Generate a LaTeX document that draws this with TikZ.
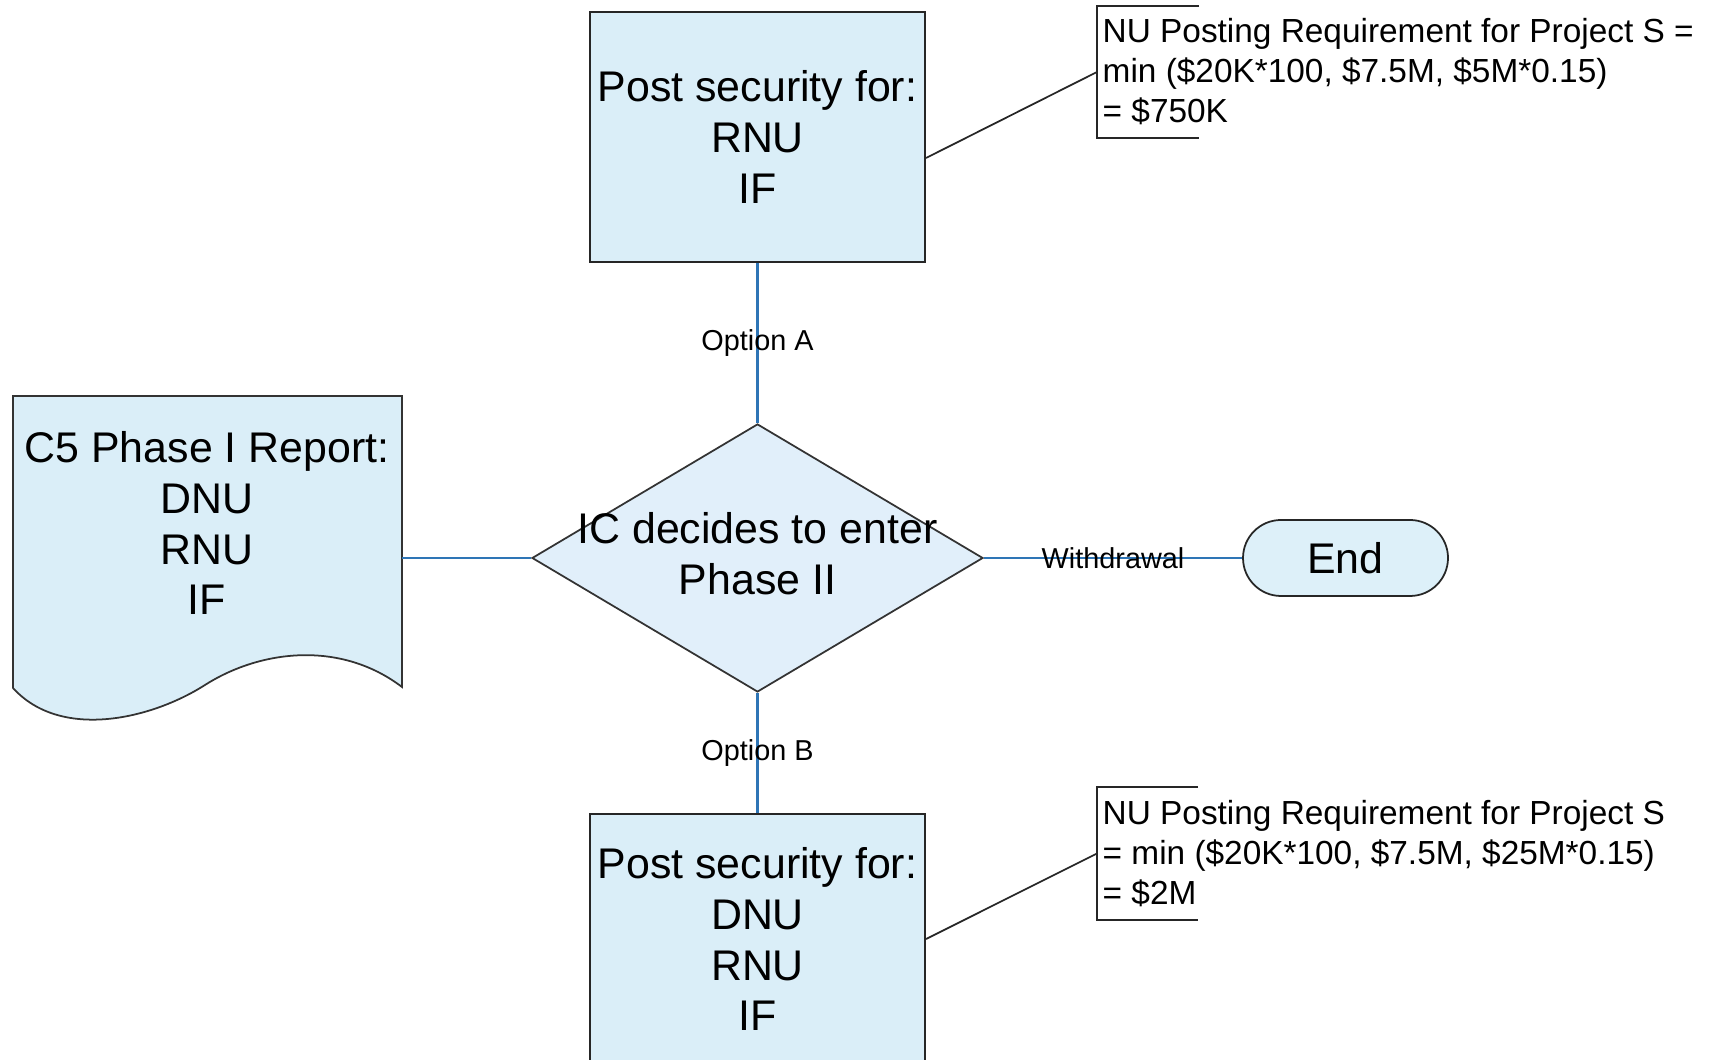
\documentclass[tikz,border=0pt]{standalone}
\usepackage{fontspec}
\setmainfont{Liberation Sans}
\usepackage{tikz}
\usetikzlibrary{shapes.geometric}

\definecolor{boxfill}{RGB}{218,238,248}
\definecolor{decfill}{RGB}{225,239,250}
\definecolor{endfill}{RGB}{221,240,249}
\definecolor{linkblue}{RGB}{46,117,182}

\begin{document}
\begin{tikzpicture}[
    box/.style={draw=black!85, fill=boxfill, line width=0.6pt, minimum width=3.35cm,
                minimum height=2.5cm, align=center, inner sep=0pt,
                font=\fontsize{12.2}{14.5}\selectfont},
    dec/.style={draw=black!80, fill=decfill, line width=0.5pt, diamond, inner sep=0pt,
                minimum width=4.51cm, minimum height=2.68cm},
    term/.style={draw=black!85, fill=endfill, line width=0.5pt, rounded corners=0.38cm,
                 minimum width=2.05cm, minimum height=0.76cm,
                 font=\fontsize{12.2}{14.5}\selectfont},
    txt/.style={align=center, font=\fontsize{12.2}{14.5}\selectfont},
    note/.style={anchor=west, align=left, inner sep=0.05cm, minimum height=1.31cm,
                 font=\fontsize{9.5}{11.4}\selectfont},
    lbl/.style={text=black, font=\fontsize{8.2}{9.8}\selectfont, inner sep=1pt},
    link/.style={linkblue, line width=0.6pt},
    lead/.style={black!85, line width=0.5pt}
]
\useasboundingbox (0,0) rectangle (17.12,10.6);

% ============================================================
% Report (left)
% ============================================================
\filldraw[draw=black!80, fill=boxfill, line width=0.5pt]
    (0.13,6.64) -- (4.02,6.64) -- (4.02,3.73)
    .. controls (3.4,4.2) and (2.6,4.1) .. (2.05,3.75)
    .. controls (1.5,3.4) and (0.6,3.2) .. (0.13,3.72) -- cycle;
\node[txt] (rpt) at (2.07,5.37) {C5 Phase I Report:\\DNU\\RNU\\IF};
\coordinate (rptout) at (4.02,5.02);

% ============================================================
% Decision (centre) and End
% ============================================================
\node[dec] (dec) at (7.575,5.02) {};
\node[txt] (dectext) at (7.575,5.06) {IC decides to enter\\Phase II};
\node[term] (stop) at (13.455,5.02) {End};

% ============================================================
% Security boxes (top / bottom)
% ============================================================
\node[box] (secA) at (7.575,9.23) {Post security for:\\RNU\\IF};
\node[box] (secB) at (7.575,1.21) {Post security for:\\DNU\\RNU\\IF};

% notes
\node[note] (noteA) at (10.97,9.88)
    {NU Posting Requirement for Project S =\\min (\$20K*100, \$7.5M, \$5M*0.15)\\= \$750K};
\node[note] (noteB) at (10.97,2.065)
    {NU Posting Requirement for Project S\\= min (\$20K*100, \$7.5M, \$25M*0.15)\\= \$2M};
\draw[lead] ([xshift=1.02cm]noteA.north west) -- (noteA.north west)
    -- (noteA.south west) -- ++(1.02,0);
\draw[lead] ([xshift=1.01cm]noteB.north west) -- (noteB.north west)
    -- (noteB.south west) -- ++(1.01,0);

% ============================================================
% Connectors
% ============================================================
\draw[link] (rptout) -- (dec.west);
\draw[link] (secA.south) -- node[lbl] {Option A} (dec.north);
\draw[link] (dec.south) -- node[lbl] {Option B} (secB.north);
\draw[link] (dec.east) -- node[lbl] {Withdrawal} (stop.west);
\draw[lead] ([yshift=-0.21cm]secA.east) -- (noteA.west);
\draw[lead] (secB.east) -- (noteB.west);

\end{tikzpicture}
\end{document}
